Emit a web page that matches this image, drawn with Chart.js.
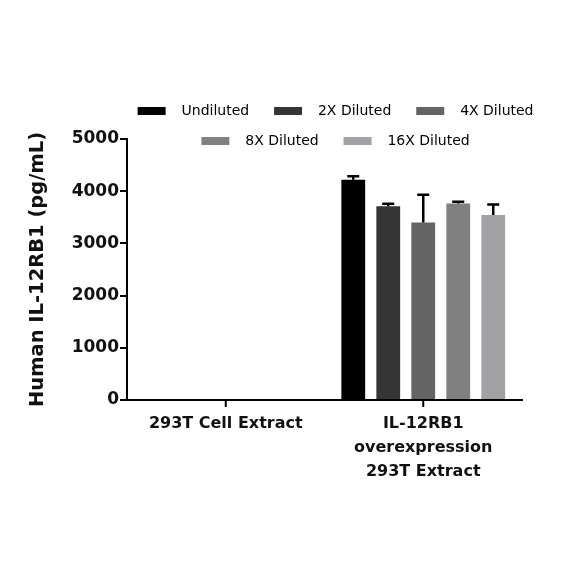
<!DOCTYPE html>
<html>
<head>
<meta charset="utf-8">
<script src="https://cdn.jsdelivr.net/npm/chart.js@4"></script>
<style>
  html, body { margin: 0; padding: 0; background: #fff; }
  #wrap { width: 584px; height: 584px; }
</style>
</head>
<body>
<div id="wrap"><canvas id="chart" width="584" height="584"></canvas></div>
<script>
// Data
const categories = ['293T Cell Extract', ['IL-12RB1', 'overexpression', '293T Extract']];
const seriesNames = ['Undiluted', '2X Diluted', '4X Diluted', '8X Diluted', '16X Diluted'];
const undiluted = [null, 4220];
const diluted2x = [null, 3710];
const diluted4x = [null, 3400];
const diluted8x = [null, 3765];
const diluted16x = [null, 3545];
// upper error (SD) for each bar
const undilutedErr = [null, 65];
const diluted2xErr = [null, 50];
const diluted4xErr = [null, 530];
const diluted8xErr = [null, 35];
const diluted16xErr = [null, 200];
const yTicks = [0, 1000, 2000, 3000, 4000, 5000];

const colors = ['#000000', '#353535', '#646464', '#808080', '#a2a2a5'];
const values = [undiluted, diluted2x, diluted4x, diluted8x, diluted16x];
const errors = [undilutedErr, diluted2xErr, diluted4xErr, diluted8xErr, diluted16xErr];

// draw only the upper whisker with a cap, like the original
const errorBars = {
    id: 'errorBars',
    afterDatasetsDraw(chart) {
        const ctx = chart.ctx;
        const y = chart.scales.y;
        ctx.save();
        ctx.strokeStyle = '#000';
        ctx.lineWidth = 2.5;
        chart.data.datasets.forEach((ds, i) => {
            const meta = chart.getDatasetMeta(i);
            meta.data.forEach((bar, j) => {
                const v = ds.data[j];
                const e = errors[i][j];
                if (v == null || e == null) return;
                const top = y.getPixelForValue(v + e);
                ctx.beginPath();
                ctx.moveTo(bar.x, bar.y);
                ctx.lineTo(bar.x, top);
                ctx.moveTo(bar.x - 6, top);
                ctx.lineTo(bar.x + 6, top);
                ctx.stroke();
            });
        });
        ctx.restore();
    }
};

// tick marks under each category centre
const xTickMarks = {
    id: 'xTickMarks',
    afterDraw(chart) {
        const ctx = chart.ctx;
        const x = chart.scales.x;
        ctx.save();
        ctx.strokeStyle = '#000';
        ctx.lineWidth = 2;
        x.ticks.forEach((t, i) => {
            const px = x.getPixelForTick(i);
            ctx.beginPath();
            ctx.moveTo(px, x.top);
            ctx.lineTo(px, x.top + 7);
            ctx.stroke();
        });
        ctx.restore();
    }
};

// let the legend overlap the top of the plot a bit and sit right of centre
const SHRINK = 19;
const SHIFT = 66;
const legendShrink = {
    id: 'legendShrink',
    beforeInit(chart) {
        const origFit = chart.legend.fit;
        chart.legend.fit = function () {
            origFit.bind(chart.legend)();
            this.height -= SHRINK;
        };
    },
    afterLayout(chart) {
        const lg = chart.legend;
        lg.height += SHRINK;
        lg.bottom += SHRINK;
        lg.left += SHIFT;
        lg.right += SHIFT;
    }
};

new Chart(document.getElementById('chart'), {
    type: 'bar',
    data: {
        labels: categories,
        datasets: seriesNames.map((name, i) => ({
            label: name,
            data: values[i],
            backgroundColor: colors[i],
            borderWidth: 0,
            categoryPercentage: 0.886,
            barPercentage: 0.68
        }))
    },
    options: {
        responsive: false,
        animation: false,
        layout: { padding: { top: 88, left: 26, right: 62, bottom: 96 } },
        plugins: {
            tooltip: { enabled: false },
            legend: {
                position: 'top',
                labels: {
                    boxWidth: 28,
                    boxHeight: 8,
                    padding: 16,
                    color: '#222',
                    font: { family: 'DejaVu Sans', size: 14 },
                    generateLabels(chart) {
                        return chart.data.datasets.map((ds, i) => ({
                            text: '  ' + ds.label + '  ',
                            fillStyle: ds.backgroundColor,
                            strokeStyle: ds.backgroundColor,
                            lineWidth: 0,
                            datasetIndex: i
                        }));
                    }
                }
            }
        },
        scales: {
            x: {
                grid: { display: false },
                border: { display: true, color: '#000', width: 2 },
                ticks: {
                    color: '#111',
                    padding: 4,
                    maxRotation: 0,
                    font: { family: 'DejaVu Sans', size: 16, weight: 'bold', lineHeight: 1.5 }
                }
            },
            y: {
                min: 0,
                max: 5000,
                afterBuildTicks(scale) {
                    scale.ticks = yTicks.map(v => ({ value: v }));
                },
                afterFit(scale) { scale.width = 101; },
                grid: { drawOnChartArea: false, color: '#000', lineWidth: 2, tickLength: 7 },
                border: { color: '#000', width: 2 },
                ticks: {
                    color: '#111',
                    padding: 1,
                    font: { family: 'DejaVu Sans', size: 17, weight: 'bold' },
                    callback: v => String(v)
                },
                title: {
                    display: true,
                    text: 'Human IL-12RB1 (pg/mL)',
                    color: '#111',
                    padding: { top: 0, bottom: 0 },
                    font: { family: 'DejaVu Sans', size: 19.5, weight: 'bold' }
                }
            }
        }
    },
    plugins: [errorBars, xTickMarks, legendShrink]
});
</script>
</body>
</html>
